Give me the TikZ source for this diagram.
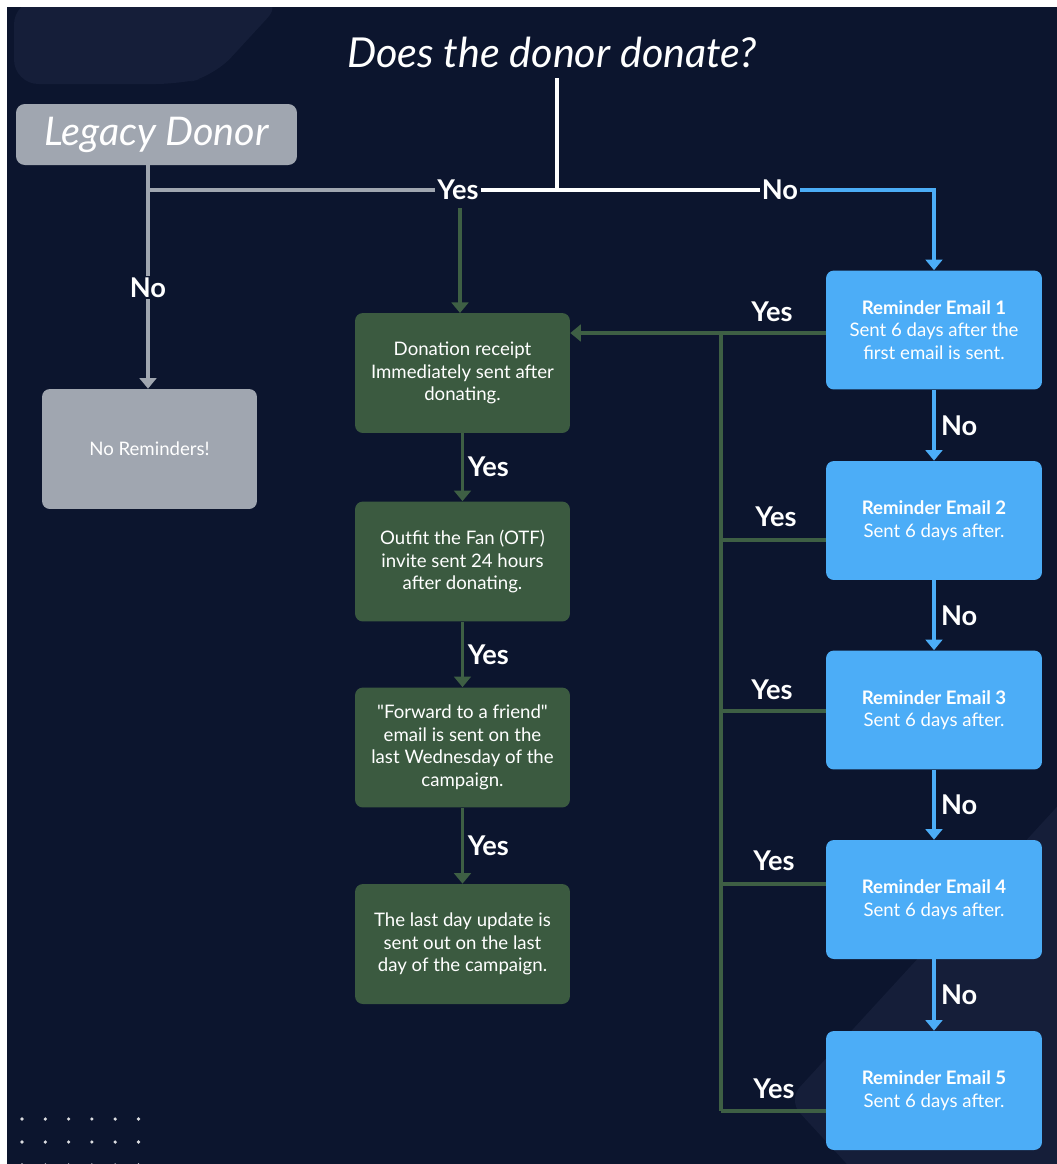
\documentclass[tikz,border=0pt]{standalone}
\usepackage{fontspec}
\setmainfont{Lato}
\usetikzlibrary{arrows.meta}
\definecolor{bgnavy}{HTML}{0C152E}
\definecolor{bgdeco}{HTML}{151E39}
\definecolor{boxgrey}{HTML}{A0A6B0}
\definecolor{boxgreen}{HTML}{3B5A40}
\definecolor{linegreen}{HTML}{3E5F44}
\definecolor{boxblue}{HTML}{4CADF7}

\begin{document}
\begin{tikzpicture}[x=0.02cm,y=-0.02cm]
\tikzset{
  flowbox/.style={rectangle,rounded corners=4.5pt,text=white,align=center,inner sep=2pt,
    minimum width=4.3cm,minimum height=2.4cm,font=\fontsize{10.6}{12.8}\selectfont},
  greybox/.style={flowbox,fill=boxgrey},
  greenbox/.style={flowbox,fill=boxgreen},
  bluebox/.style={flowbox,fill=boxblue,minimum width=4.32cm,minimum height=2.38cm},
  lbl/.style={text=white,inner sep=1pt,font=\bfseries\fontsize{15.5}{17}\selectfont},
  gaplbl/.style={lbl,fill=bgnavy,inner xsep=1pt},
  greyline/.style={boxgrey,line width=2pt},
  whiteline/.style={white,line width=2pt},
  greenline/.style={linegreen,line width=2pt},
  blueline/.style={boxblue,line width=2pt},
  tip/.style={-{Triangle[width=9.5pt,length=6pt]}}
}
\useasboundingbox (0,0) rectangle (1057,1164);
\fill[white] (0,0) rectangle (1057,1164);
\fill[bgnavy] (7,7) rectangle (1057,1164);
\begin{scope}
\clip (7,7) rectangle (1057,1164);
\fill[bgdeco,rounded corners=14pt] (14,0) -- (284,0) -- (214,76) -- (180,84) -- (14,84) -- cycle;
\fill[bgdeco,rounded corners=10pt] (1100,760) -- (788,1100) -- (880,1200) -- (1100,1200) -- cycle;
\foreach \i in {0,...,5}
  \foreach \j in {0,1,2}
    \fill[white!85!bgnavy] (22+23.3*\i,1119+23*\j) circle (1.8);
\end{scope}

\node[text=white,font=\itshape\fontsize{23.5}{28}\selectfont] (n_title) at (552,52) {Does the donor donate?};
\node[greybox,minimum width=5.62cm,minimum height=1.22cm,rounded corners=5pt,
  font=\itshape\fontsize{22.5}{26}\selectfont] (n_legacy) at (156.5,134.5) {Legacy Donor};
\node[greybox] (n_noRem) at (149.5,449) {No Reminders!};

\node[greenbox] (n_receipt) at (462.5,373) {Donation receipt\\Immediately sent after\\donating.};
\node[greenbox] (n_otf) at (462.5,561.5) {Outfit the Fan (OTF)\\invite sent 24 hours\\after donating.};
\node[greenbox] (n_forward) at (462.5,747.5) {\textquotedbl Forward to a friend\textquotedbl\\email is sent on the\\last Wednesday of the\\campaign.};
\node[greenbox] (n_lastday) at (462.5,944) {The last day update is\\sent out on the last\\day of the campaign.};

\node[bluebox] (n_rem1) at (934,330) {\textbf{Reminder Email 1}\\Sent 6 days after the\\first email is sent.};
\node[bluebox] (n_rem2) at (934,520.5) {\textbf{Reminder Email 2}\\Sent 6 days after.};
\node[bluebox] (n_rem3) at (934,710) {\textbf{Reminder Email 3}\\Sent 6 days after.};
\node[bluebox] (n_rem4) at (934,899.5) {\textbf{Reminder Email 4}\\Sent 6 days after.};
\node[bluebox] (n_rem5) at (934,1090.5) {\textbf{Reminder Email 5}\\Sent 6 days after.};

\coordinate (c_split) at (557,190);
\coordinate (c_legacy) at (148,190);
\coordinate (c_bus1) at (721,333);
\coordinate (c_bus2) at (721,540);
\coordinate (c_bus3) at (721,711);
\coordinate (c_bus4) at (721,884);
\coordinate (c_bus5) at (721,1111);

\node[gaplbl] (n_yes) at (458,190) {Yes};
\node[gaplbl] (n_no) at (780,190) {No};
\draw[whiteline] (557,78) -- (c_split);
\draw[whiteline] (n_yes.east) -- (n_no.west);
\draw[greyline] (n_legacy.south -| c_legacy) -- (c_legacy) -- (n_yes.west);
\draw[greyline,tip] (c_legacy) -- (n_noRem.north -| c_legacy)
  node[gaplbl,pos=0.49] (n_noLeft) {No};
\draw[blueline,tip] (n_no.east) -| (n_rem1.north);
\draw[greenline,tip] (460,208) -- (460,313);

\draw[greenline,tip] (n_receipt.south) -- (n_otf.north) node[lbl,midway,right=1pt] {Yes};
\draw[greenline,tip] (n_otf.south) -- (n_forward.north) node[lbl,midway,right=1pt] {Yes};
\draw[greenline,tip] (n_forward.south) -- (n_lastday.north) node[lbl,midway,right=1pt] {Yes};

\draw[blueline,tip] (n_rem1.south) -- (n_rem2.north) node[lbl,midway,right=2pt] {No};
\draw[blueline,tip] (n_rem2.south) -- (n_rem3.north) node[lbl,midway,right=2pt] {No};
\draw[blueline,tip] (n_rem3.south) -- (n_rem4.north) node[lbl,midway,right=2pt] {No};
\draw[blueline,tip] (n_rem4.south) -- (n_rem5.north) node[lbl,midway,right=2pt] {No};

\draw[greenline,tip] (c_bus1 -| n_rem1.west) -- (c_bus1 -| n_receipt.east);
\draw[greenline] (c_bus1) -- (c_bus5);
\draw[greenline] (c_bus2) -- (c_bus2 -| n_rem2.west);
\draw[greenline] (c_bus3) -- (c_bus3 -| n_rem3.west);
\draw[greenline] (c_bus4) -- (c_bus4 -| n_rem4.west);
\draw[greenline] (c_bus5) -- (c_bus5 -| n_rem5.west);

\node[lbl] at (772,312) {Yes};
\node[lbl] at (776,517) {Yes};
\node[lbl] at (772,690) {Yes};
\node[lbl] at (774,861) {Yes};
\node[lbl] at (774,1089) {Yes};
\end{tikzpicture}
\end{document}
